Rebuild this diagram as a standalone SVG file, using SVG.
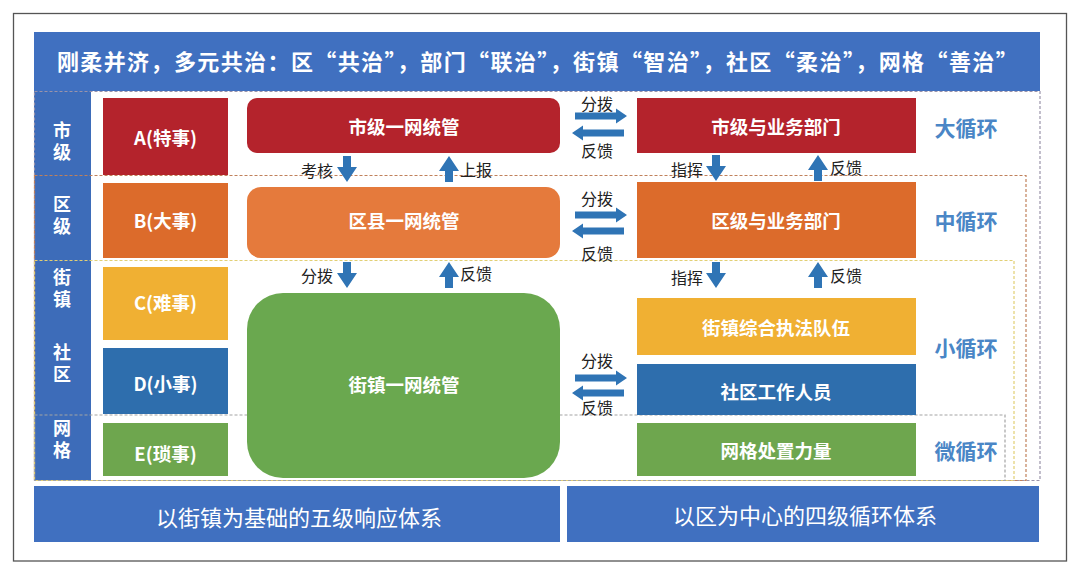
<svg xmlns="http://www.w3.org/2000/svg" width="1080" height="574" viewBox="0 0 1080 574">
<defs>
<style>
text{font-family:"Noto Sans CJK SC","Noto Sans",sans-serif;dominant-baseline:central;text-anchor:middle}
.wb{fill:#fff;font-weight:bold;font-size:18.5px}
.lv{fill:#fff;font-weight:bold;font-size:18px;writing-mode:vertical-rl;letter-spacing:4px}
.lab{fill:#222;font-size:16px}
.loop{fill:#4a86c6;font-weight:bold;font-size:21px}
.bot{fill:#fff;font-size:22px}
.dash{fill:none;stroke-width:1.2;stroke-dasharray:3 2}
.arr{fill:#2f74b5}
</style>
<path id="down" d="M-4,0H4V11H10L0,26L-10,11H-4Z"/>
<path id="up" d="M0,0L10,15H4V26H-4V15H-10Z"/>
<path id="right" d="M0,-3.5H41V-7.5L52,0L41,7.5V3.5H0Z"/>
<path id="left" d="M0,-3.5H-41V-7.5L-52,0L-41,7.5V3.5H0Z"/>
</defs>
<rect width="1080" height="574" fill="#fff"/>
<rect x="13.5" y="13.5" width="1053" height="547.5" fill="none" stroke="#555" stroke-width="1.3"/>

<g id="title">
<rect x="34" y="32" width="1006" height="59" fill="#4070c0"/>
<text x="538" y="60" fill="#fff" font-weight="bold" font-size="22" letter-spacing="1.4">刚柔并济，多元共治：区“共治”，部门“联治”，街镇“智治”，社区“柔治”，网格“善治”</text>
</g>

<g id="levels-column">
<rect x="34" y="91" width="57" height="390" fill="#3d6cb9"/>
<text class="lv" x="62" y="143">市级</text>
<text class="lv" x="62" y="217">区级</text>
<text class="lv" x="62" y="290.5">街镇</text>
<text class="lv" x="62" y="365.5">社区</text>
<text class="lv" x="62" y="441">网格</text>
</g>

<g id="loops">
<rect class="dash" x="34.5" y="91.5" width="1005.5" height="389" stroke="#9a93aa"/>
<rect class="dash" x="34.5" y="175.5" width="991.5" height="305" stroke="#c0805a"/>
<rect class="dash" x="34.5" y="260.5" width="979.5" height="220" stroke="#e2cf74"/>
<rect class="dash" x="34.5" y="415" width="970.5" height="65.5" stroke="#a4a4a4"/>
</g>

<g id="node-A"><rect x="103" y="98" width="125" height="77" fill="#b4232c"/><text class="wb" x="165.5" y="137">A(特事)</text></g>
<g id="node-B"><rect x="103" y="183" width="125" height="75" fill="#dc6b2b"/><text class="wb" x="165.5" y="220">B(大事)</text></g>
<g id="node-C"><rect x="103" y="267" width="125" height="73" fill="#f0b033"/><text class="wb" x="165.5" y="302">C(难事)</text></g>
<g id="node-D"><rect x="103" y="348" width="125" height="66" fill="#2e6ead"/><text class="wb" x="165.5" y="383">D(小事)</text></g>
<g id="node-E"><rect x="103" y="423" width="125" height="53" fill="#6ea64e"/><text class="wb" x="165.5" y="453">E(琐事)</text></g>

<g id="node-city"><rect x="247" y="98" width="313" height="55" rx="10" fill="#b4232c"/><text class="wb" x="404" y="126">市级一网统管</text></g>
<g id="node-district"><rect x="247" y="187" width="313" height="71" rx="14" fill="#e57a3c"/><text class="wb" x="404" y="220">区县一网统管</text></g>
<g id="node-street"><rect x="247" y="293" width="313" height="185" rx="36" fill="#6aa84f"/><text class="wb" x="404" y="384">街镇一网统管</text></g>

<g id="node-city-dept"><rect x="637" y="98" width="279" height="55" fill="#b4232c"/><text class="wb" x="776" y="126">市级与业务部门</text></g>
<g id="node-district-dept"><rect x="637" y="182" width="279" height="76" fill="#dc6b2b"/><text class="wb" x="776" y="220">区级与业务部门</text></g>
<g id="node-enforce"><rect x="637" y="298" width="279" height="57" fill="#f0b033"/><text class="wb" x="776" y="327">街镇综合执法队伍</text></g>
<g id="node-community"><rect x="637" y="364" width="279" height="51" fill="#2e6ead"/><text class="wb" x="776" y="391">社区工作人员</text></g>
<g id="node-grid"><rect x="637" y="423" width="279" height="53" fill="#6ea64e"/><text class="wb" x="776" y="450">网格处置力量</text></g>

<g id="loop-labels">
<text class="loop" x="966" y="127">大循环</text>
<text class="loop" x="966" y="220">中循环</text>
<text class="loop" x="966" y="347">小循环</text>
<text class="loop" x="966" y="450">微循环</text>
</g>

<g id="connectors">
<use href="#down" class="arr" x="347" y="156"/>
<use href="#up" class="arr" x="449" y="156"/>
<use href="#down" class="arr" x="347" y="262"/>
<use href="#up" class="arr" x="449" y="262"/>
<use href="#down" class="arr" x="716" y="155"/>
<use href="#up" class="arr" x="818" y="155"/>
<use href="#down" class="arr" x="716" y="262"/>
<use href="#up" class="arr" x="818" y="262"/>
<use href="#right" class="arr" x="575" y="116"/>
<use href="#left" class="arr" x="624" y="133"/>
<use href="#right" class="arr" x="575" y="215"/>
<use href="#left" class="arr" x="624" y="231"/>
<use href="#right" class="arr" x="575" y="378"/>
<use href="#left" class="arr" x="624" y="393"/>
<text class="lab" x="317" y="170">考核</text>
<text class="lab" x="476" y="169">上报</text>
<text class="lab" x="317" y="275">分拨</text>
<text class="lab" x="476" y="273">反馈</text>
<text class="lab" x="687" y="169">指挥</text>
<text class="lab" x="846" y="167">反馈</text>
<text class="lab" x="687" y="277">指挥</text>
<text class="lab" x="846" y="275">反馈</text>
<text class="lab" x="597" y="103">分拨</text>
<text class="lab" x="597" y="150">反馈</text>
<text class="lab" x="597" y="198">分拨</text>
<text class="lab" x="597" y="253">反馈</text>
<text class="lab" x="597" y="360">分拨</text>
<text class="lab" x="597" y="407">反馈</text>
</g>

<g id="bottom-left"><rect x="34" y="486" width="526" height="56" fill="#4070c0"/><text class="bot" x="299" y="516">以街镇为基础的五级响应体系</text></g>
<g id="bottom-right"><rect x="567" y="486" width="472" height="56" fill="#4070c0"/><text class="bot" x="805" y="514">以区为中心的四级循环体系</text></g>
</svg>
